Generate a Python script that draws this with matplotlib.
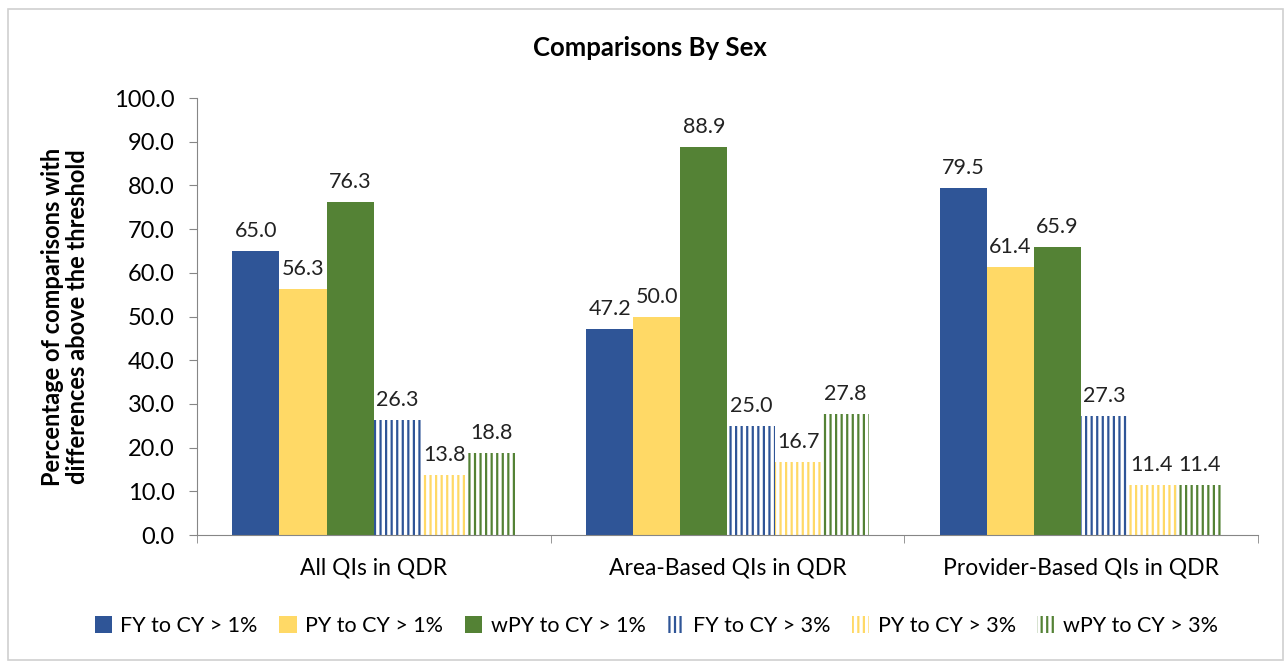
import matplotlib
matplotlib.use("Agg")
import matplotlib.pyplot as plt
from matplotlib.patches import Rectangle
import numpy as np

plt.rcParams['font.family'] = ['Lato', 'DejaVu Sans']
plt.rcParams['hatch.linewidth'] = 1.6

# chart data
categories = ["All QIs in QDR", "Area-Based QIs in QDR", "Provider-Based QIs in QDR"]
series_names = ["FY to CY > 1%", "PY to CY > 1%", "wPY to CY > 1%",
                "FY to CY > 3%", "PY to CY > 3%", "wPY to CY > 3%"]
fy_1 = [65.0, 47.2, 79.5]
py_1 = [56.3, 50.0, 61.4]
wpy_1 = [76.3, 88.9, 65.9]
fy_3 = [26.3, 25.0, 27.3]
py_3 = [13.8, 16.7, 11.4]
wpy_3 = [18.8, 27.8, 11.4]
series = [fy_1, py_1, wpy_1, fy_3, py_3, wpy_3]

blue = '#2F5597'
yellow = '#FFD966'
green = '#548235'
colors = [blue, yellow, green, blue, yellow, green]
hatched = [False, False, False, True, True, True]

fig = plt.figure(figsize=(12.87, 6.61), dpi=100)
ax = fig.add_axes([0.153, 0.1906, 0.8245, 0.6611])

# light border round the chart area
fig.patches.append(Rectangle((8 / 1287, 0.002), 1 - 8 / 1287 - 0.003, 1 - 9 / 661 - 0.002,
                             transform=fig.transFigure, fill=False,
                             edgecolor='#d0d0d0', linewidth=1.2))

x = np.arange(len(categories))
w = 0.8 / len(series)
for i, vals in enumerate(series):
    pos = x + (i - 2.5) * w
    if hatched[i]:
        ax.bar(pos, vals, w, facecolor='white', edgecolor=colors[i],
               hatch='|||', linewidth=0, label=series_names[i])
    else:
        ax.bar(pos, vals, w, color=colors[i], linewidth=0, label=series_names[i])
    for p, v in zip(pos, vals):
        ax.annotate(f"{v:.1f}", (p, v), xytext=(0, 7), textcoords='offset points',
                    ha='center', va='bottom', fontsize=15.5, color='#222222')

ax.set_xlim(-0.5, 2.5)
ax.set_ylim(0, 100)
ax.set_yticks(np.arange(0, 101, 10))
ax.set_yticklabels([f"{v:.1f}" for v in np.arange(0, 101, 10)], fontsize=17)
ax.set_xticks(x)
ax.set_xticklabels(categories, fontsize=16.5)
ax.set_xticks([-0.5, 0.5, 1.5, 2.5], minor=True)
ax.tick_params(axis='x', which='major', length=0, pad=16)
ax.tick_params(axis='x', which='minor', length=6, color='#868686')
ax.tick_params(axis='y', length=6, color='#868686', pad=10)
for s in ['top', 'right']:
    ax.spines[s].set_visible(False)
for s in ['left', 'bottom']:
    ax.spines[s].set_color('#868686')

ax.set_ylabel("Percentage of comparisons with\ndifferences above the threshold",
              fontsize=17, fontweight='bold', labelpad=18, linespacing=1.1)
fig.text(0.505, 0.927, "Comparisons By Sex", ha='center', va='center',
         fontsize=18.5, fontweight='bold')

fig.legend(loc='center', bbox_to_anchor=(0.51, 0.053), ncol=6, frameon=False,
           fontsize=15.5, handlelength=0.8, handleheight=0.8, handletextpad=0.4,
           columnspacing=1.0)

fig.savefig("out.png", dpi=100)
